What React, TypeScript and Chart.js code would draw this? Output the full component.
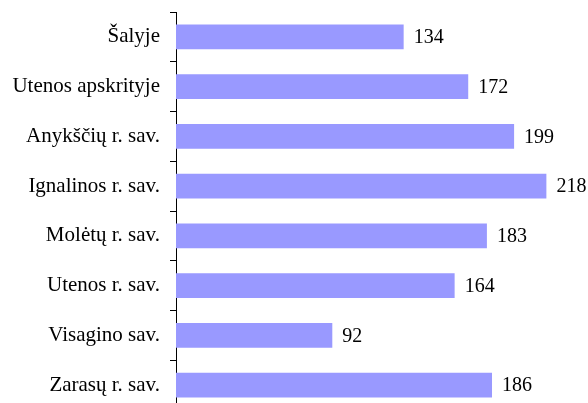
import React, { useEffect, useRef } from "react";
import { Chart, registerables } from "chart.js";

Chart.register(...registerables);

const categories = [
  "Šalyje",
  "Utenos apskrityje",
  "Anykščių r. sav.",
  "Ignalinos r. sav.",
  "Molėtų r. sav.",
  "Utenos r. sav.",
  "Visagino sav.",
  "Zarasų r. sav.",
];
const values = [134, 172, 199, 218, 183, 164, 92, 186];

const FONT = "'Liberation Serif', 'Times New Roman', serif";
const LABEL_SIZE = 21;
const VALUE_SIZE = 20;

const valueLabels = {
  id: "valueLabels",
  afterDatasetsDraw(chart: any) {
    const ctx = chart.ctx;
    const meta = chart.getDatasetMeta(0);
    ctx.save();
    ctx.font = `${VALUE_SIZE}px ${FONT}`;
    ctx.fillStyle = "#000";
    ctx.textAlign = "left";
    ctx.textBaseline = "middle";
    meta.data.forEach((bar: any, i: number) => {
      ctx.fillText(String(values[i]), bar.x + 10, bar.y + 1);
    });
    ctx.restore();
  },
};

export default function App() {
  const ref = useRef<HTMLCanvasElement | null>(null);
  useEffect(() => {
    if (!ref.current) return;
    const chart = new Chart(ref.current, {
      type: "bar",
      data: {
        labels: categories,
        datasets: [
          {
            data: values,
            backgroundColor: "#9999FF",
            borderWidth: 0,
            barPercentage: 0.5,
            categoryPercentage: 1,
          },
        ],
      },
      options: {
        indexAxis: "y",
        animation: false,
        responsive: false,
        maintainAspectRatio: false,
        layout: { padding: { top: 12, bottom: 0, left: 0, right: 0 } },
        plugins: { legend: { display: false }, tooltip: { enabled: false } },
        scales: {
          x: { display: false, min: 0, max: 242.5 },
          y: {
            afterFit(scale: any) {
              scale.width = 176;
              scale.paddingTop = 0;
              scale.paddingBottom = 0;
            },
            grid: {
              offset: true,
              drawOnChartArea: false,
              drawTicks: true,
              tickLength: 6,
              color: "#000",
            },
            border: { display: true, color: "#000", width: 1 },
            ticks: {
              color: "#000",
              padding: 10,
              font: { family: FONT, size: LABEL_SIZE },
            },
          },
        },
      },
      plugins: [valueLabels],
    });
    return () => chart.destroy();
  }, []);
  return (
    <div style={{ position: "fixed", left: 0, top: 0, width: 588, height: 403, overflow: "hidden", background: "#fff" }}>
      <canvas ref={ref} width={588} height={410} style={{ display: "block" }} />
    </div>
  );
}
